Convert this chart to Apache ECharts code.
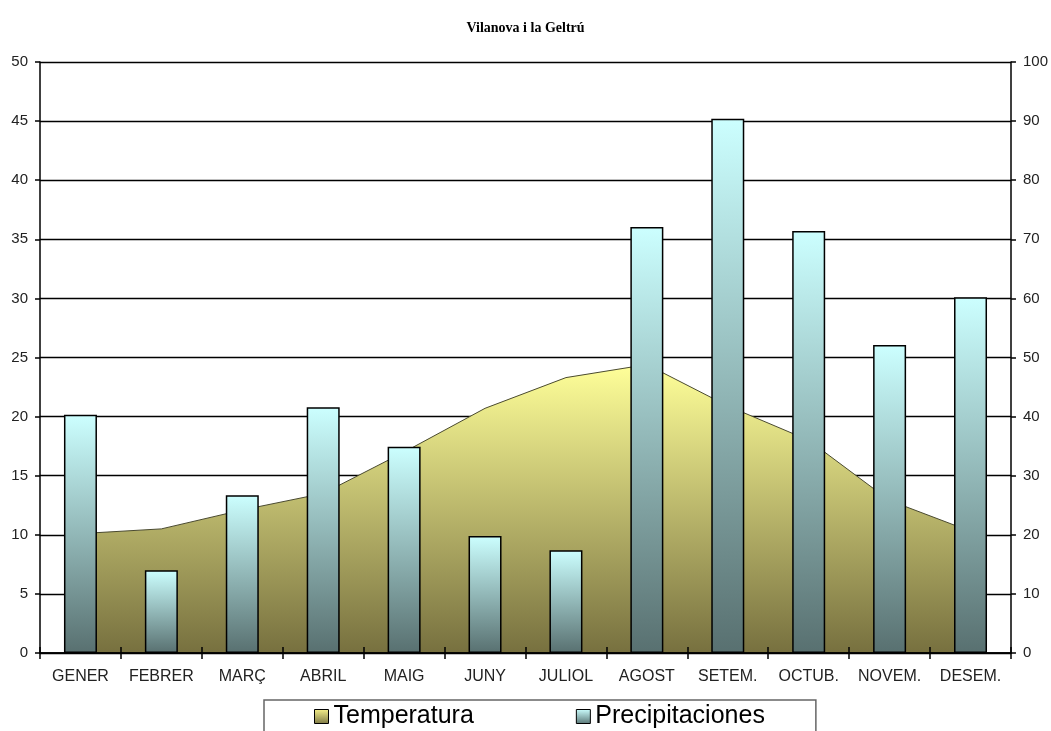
<!DOCTYPE html>
<html>
<head>
<meta charset="utf-8">
<script src="https://cdn.jsdelivr.net/npm/echarts@6/dist/echarts.min.js"></script>
<style>html,body{margin:0;padding:0;background:#fff}#c{width:1051px;height:731px}</style>
</head>
<body>
<div id="c"></div>
<script>
const categories = ['GENER','FEBRER','MARÇ','ABRIL','MAIG','JUNY','JULIOL','AGOST','SETEM.','OCTUB.','NOVEM.','DESEM.'];
const temperatura = [10.1, 10.5, 12.1, 13.5, 17.0, 20.7, 23.3, 24.4, 20.9, 18.0, 12.9, 10.3];
const precipitaciones = [40.3, 14.0, 26.7, 41.6, 34.9, 19.8, 17.4, 72.1, 90.4, 71.4, 52.1, 60.2];
const leftTicks = [0, 50, 5];
const rightTicks = [0, 100, 10];

const chart = echarts.init(document.getElementById('c'), null, {renderer: 'canvas'});
const numLbl = {color: '#222', fontFamily: 'Arial, Liberation Sans', fontSize: 15};
chart.setOption({
  animation: false,
  backgroundColor: '#fff',
  title: {
    text: 'Vilanova i la Geltrú', left: 'center', top: 16,
    textStyle: {fontFamily: 'Liberation Serif, Times New Roman, serif', fontWeight: 'bold', fontSize: 14, color: '#000'}
  },
  legend: {
    left: 264, top: 700,
    padding: [4, 51, 10, 50],
    itemGap: 102, itemWidth: 14, itemHeight: 14,
    borderColor: '#666', borderWidth: 1.5,
    icon: 'rect',
    textStyle: {fontFamily: 'Arial, Liberation Sans', fontSize: 25, color: '#000'},
    data: [
      {name: 'Temperatura', itemStyle: {color: new echarts.graphic.LinearGradient(0,0,0,1,[{offset:0,color:'#f6f08a'},{offset:1,color:'#7d7845'}]), borderColor:'#000', borderWidth:1}},
      {name: 'Precipitaciones', itemStyle: {color: new echarts.graphic.LinearGradient(0,0,0,1,[{offset:0,color:'#ccffff'},{offset:1,color:'#5a7676'}]), borderColor:'#000', borderWidth:1}}
    ]
  },
  grid: {left: 40, right: 39, top: 62, bottom: 78, containLabel: false},
  xAxis: [
    {
      type: 'category', data: categories, boundaryGap: true, position: 'bottom', z: 100,
      axisLine: {show: true, onZero: false, lineStyle: {color: '#000', width: 1.5}},
      axisTick: {show: true, interval: 0, length: 6, lineStyle: {color: '#000', width: 1.5}},
      axisLabel: {interval: 0, margin: 16, color: '#222', fontFamily: 'Arial, Liberation Sans', fontSize: 16}
    },
    {
      type: 'category', data: categories, boundaryGap: true, position: 'bottom', offset: 0, z: 100,
      axisLine: {show: true, onZero: false, lineStyle: {color: '#000', width: 1.5}},
      axisTick: {show: true, interval: 0, inside: true, length: 6, lineStyle: {color: '#000', width: 1.5}},
      axisLabel: {show: false}
    }
  ],
  yAxis: [
    {
      type: 'value', min: leftTicks[0], max: leftTicks[1], interval: leftTicks[2], position: 'left',
      axisLine: {show: true, lineStyle: {color: '#000', width: 1.5}},
      axisTick: {show: true, length: 5, lineStyle: {color: '#000', width: 1.5}},
      axisLabel: Object.assign({margin: 12}, numLbl),
      splitLine: {show: true, lineStyle: {color: '#000', width: 1.4}}
    },
    {
      type: 'value', min: rightTicks[0], max: rightTicks[1], interval: rightTicks[2], position: 'right',
      axisLine: {show: true, lineStyle: {color: '#000', width: 1.5}},
      axisTick: {show: true, length: 5, lineStyle: {color: '#000', width: 1.5}},
      axisLabel: Object.assign({margin: 12}, numLbl),
      splitLine: {show: false}
    }
  ],
  series: [
    {
      name: 'Temperatura', type: 'line', xAxisIndex: 0, yAxisIndex: 0, data: temperatura,
      symbol: 'none', smooth: false, z: 2,
      lineStyle: {color: '#4a4a30', width: 1},
      itemStyle: {color: '#d8d27a'},
      areaStyle: {
        opacity: 1,
        color: new echarts.graphic.LinearGradient(0,0,0,1,[{offset:0,color:'#ffff99'},{offset:1,color:'#77703f'}])
      }
    },
    {
      name: 'Precipitaciones', type: 'bar', xAxisIndex: 0, yAxisIndex: 1, data: precipitaciones,
      barWidth: 33, z: 3,
      itemStyle: {
        borderColor: '#000', borderWidth: 1.5,
        color: new echarts.graphic.LinearGradient(0,0,0,1,[{offset:0,color:'#ccffff'},{offset:1,color:'#587070'}])
      }
    }
  ]
});
</script>
</body>
</html>
